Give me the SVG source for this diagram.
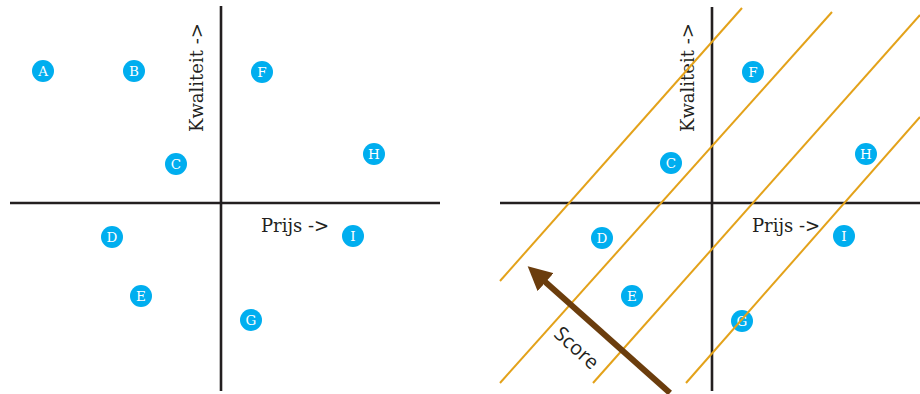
<svg xmlns="http://www.w3.org/2000/svg" width="920" height="394" viewBox="0 0 920 394">
  <style>
    .axis { stroke: #231f20; stroke-width: 2.6; fill: none; }
    .guide { stroke: #e3a21a; stroke-width: 2; fill: none; }
    .dot { fill: #00aeef; }
    .lbl { fill: #ffffff; font-family: "DejaVu Serif", "Liberation Serif", serif; font-size: 13.5px; text-anchor: middle; }
    .axt { fill: #231f20; font-family: "DejaVu Serif", "Liberation Serif", serif; font-size: 18px; }
    .score { fill: #231f20; font-family: "Open Sans", "Noto Sans", sans-serif; font-size: 20px; text-anchor: middle; }
  </style>
  <defs>
    <marker id="ah" viewBox="0 0 10 10" refX="2" refY="5" markerWidth="4" markerHeight="4" orient="auto" markerUnits="strokeWidth">
      <path d="M0,0 L10,5 L0,10 Z" fill="#6b3d0d"/>
    </marker>
  </defs>
  <rect width="920" height="394" fill="#ffffff"/>

  <!-- Left panel -->
  <g id="left-axes">
    <line class="axis" x1="221" y1="6" x2="221" y2="391"/>
    <line class="axis" x1="10" y1="203" x2="440" y2="203"/>
    <text class="axt" transform="translate(203,132) rotate(-90)">Kwaliteit -&gt;</text>
    <text class="axt" x="261" y="232">Prijs -&gt;</text>
  </g>
  <g id="L-A"><circle class="dot" cx="43" cy="71" r="11"/><text class="lbl" x="43" y="76">A</text></g>
  <g id="L-B"><circle class="dot" cx="134" cy="71" r="11"/><text class="lbl" x="134" y="76">B</text></g>
  <g id="L-F"><circle class="dot" cx="262" cy="72" r="11"/><text class="lbl" x="262" y="77">F</text></g>
  <g id="L-C"><circle class="dot" cx="176" cy="164" r="11"/><text class="lbl" x="176" y="169">C</text></g>
  <g id="L-H"><circle class="dot" cx="374" cy="154" r="11"/><text class="lbl" x="374" y="159">H</text></g>
  <g id="L-D"><circle class="dot" cx="112" cy="237" r="11"/><text class="lbl" x="112" y="242">D</text></g>
  <g id="L-I"><circle class="dot" cx="353" cy="236" r="11"/><text class="lbl" x="353" y="241">I</text></g>
  <g id="L-E"><circle class="dot" cx="141" cy="296" r="11"/><text class="lbl" x="141" y="301">E</text></g>
  <g id="L-G"><circle class="dot" cx="251" cy="320" r="11"/><text class="lbl" x="251" y="325">G</text></g>

  <!-- Right panel -->
  <g id="right-axes">
    <line class="axis" x1="712" y1="7" x2="712" y2="391"/>
    <line class="axis" x1="500" y1="203" x2="920" y2="203"/>
    <text class="axt" transform="translate(694,132) rotate(-90)">Kwaliteit -&gt;</text>
    <text class="axt" x="752" y="232">Prijs -&gt;</text>
  </g>
  <g id="R-F"><circle class="dot" cx="753" cy="72" r="11"/><text class="lbl" x="753" y="77">F</text></g>
  <g id="R-C"><circle class="dot" cx="671" cy="163" r="11"/><text class="lbl" x="671" y="168">C</text></g>
  <g id="R-H"><circle class="dot" cx="866" cy="154" r="11"/><text class="lbl" x="866" y="159">H</text></g>
  <g id="R-D"><circle class="dot" cx="602" cy="238" r="11"/><text class="lbl" x="602" y="243">D</text></g>
  <g id="R-I"><circle class="dot" cx="844" cy="236" r="11"/><text class="lbl" x="844" y="241">I</text></g>
  <g id="R-E"><circle class="dot" cx="632" cy="296" r="11"/><text class="lbl" x="632" y="301">E</text></g>
  <g id="R-G"><circle class="dot" cx="742" cy="321" r="11"/><text class="lbl" x="742" y="326">G</text></g>

  <g id="connectors">
    <line class="guide" x1="500" y1="281" x2="742" y2="8"/>
    <line class="guide" x1="500" y1="383" x2="832" y2="12"/>
    <line class="guide" x1="593" y1="383" x2="920" y2="15"/>
    <line class="guide" x1="686" y1="383" x2="920" y2="117"/>
    <line x1="670" y1="393" x2="542" y2="279" stroke="#6b3d0d" stroke-width="6" marker-end="url(#ah)"/>
    <text class="score" transform="translate(572,353) rotate(42)">Score</text>
  </g>
</svg>
